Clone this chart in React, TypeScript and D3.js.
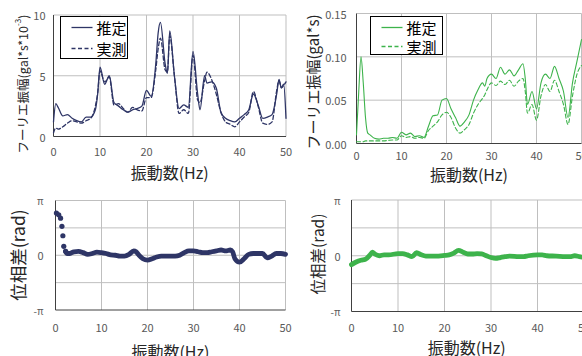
import React from "react";
import * as d3 from "d3";

// frequency (Hz) and values
const ampLeftHz = [0, 0.5, 1, 2, 3, 4, 5, 6, 7, 8, 9, 9.5, 10, 11, 12, 13, 14, 15, 16, 17, 18, 19, 20, 21, 22, 22.5, 23, 24, 24.5, 25, 26, 27, 28, 29, 30, 31, 31.5, 32.5, 33, 34, 35, 36, 37, 38, 39, 40, 41, 42, 43, 44, 45, 46, 47, 48, 48.5, 49, 49.5, 50];
const ampLeftEst = [1.2, 2.7, 2.4, 1.7, 1.8, 1.5, 1.3, 1.2, 1.6, 1.6, 2.2, 3.5, 5.7, 4.3, 5.0, 2.8, 2.5, 2.2, 2.0, 2.2, 2.3, 2.5, 3.8, 3.3, 6.0, 8.5, 9.4, 6.0, 5.2, 8.7, 5.0, 2.3, 2.6, 2.4, 7.0, 3.5, 2.2, 5.0, 4.4, 4.5, 4.0, 2.0, 1.5, 1.3, 1.2, 1.5, 1.8, 2.2, 3.5, 2.6, 1.5, 1.6, 1.8, 3.5, 4.7, 4.0, 4.3, 1.5];
const ampLeftObs = [0.3, 0.7, 0.6, 0.8, 1.1, 1.3, 1.2, 1.1, 1.3, 1.5, 2.5, 3.6, 5.4, 4.5, 4.9, 2.6, 2.7, 2.3, 2.0, 2.4, 2.2, 2.1, 3.2, 3.2, 5.5, 7.2, 8.1, 5.5, 5.3, 8.3, 5.0, 1.9, 2.2, 1.9, 6.7, 3.0, 2.8, 4.6, 5.3, 4.7, 3.5, 2.0, 1.2, 1.0, 0.8, 1.2, 1.6, 2.0, 3.7, 2.5, 1.1, 1.0, 1.2, 3.8, 4.6, 4.0, 4.2, 4.5];

const ampRightHz = [0, 0.5, 1, 1.5, 2, 2.5, 3, 4, 5, 6, 7, 8, 9, 10, 11, 12, 13, 14, 15, 16, 17, 18, 19, 20, 21, 22, 23, 24, 25, 26, 27, 28, 28.5, 29, 30, 31, 32, 33, 34, 35, 36, 37, 37.5, 38, 39, 40, 41, 42, 43, 44, 45, 46, 47, 48, 49, 50];
const ampRightEst = [0.01, 0.06, 0.1, 0.07, 0.03, 0.012, 0.01, 0.006, 0.005, 0.006, 0.006, 0.007, 0.006, 0.013, 0.01, 0.012, 0.008, 0.009, 0.007, 0.02, 0.032, 0.033, 0.05, 0.052, 0.04, 0.03, 0.02, 0.025, 0.033, 0.05, 0.062, 0.07, 0.066, 0.075, 0.08, 0.075, 0.088, 0.08, 0.085, 0.078, 0.085, 0.092, 0.075, 0.045, 0.06, 0.04, 0.07, 0.08, 0.075, 0.089, 0.075, 0.06, 0.03, 0.07, 0.095, 0.12];
const ampRightObs = [0.002, 0.002, 0.002, 0.002, 0.003, 0.003, 0.003, 0.003, 0.003, 0.003, 0.0035, 0.004, 0.004, 0.009, 0.007, 0.008, 0.006, 0.007, 0.006, 0.015, 0.02, 0.025, 0.033, 0.036, 0.03, 0.018, 0.012, 0.016, 0.022, 0.035, 0.045, 0.052, 0.056, 0.062, 0.07, 0.067, 0.072, 0.068, 0.073, 0.066, 0.072, 0.075, 0.06, 0.035, 0.045, 0.027, 0.055, 0.068, 0.06, 0.073, 0.06, 0.045, 0.022, 0.055, 0.08, 0.09];

const phaseLeftDotHz = [0.2, 0.7, 1.1, 1.4, 1.6, 1.8, 2.2];
const phaseLeftDot = [2.42, 2.32, 2.13, 1.66, 1.12, 0.51, 0.23];
const phaseLeftHz = [2.2, 2.5, 3, 4, 5, 6, 7, 8, 9, 10, 11, 12, 13, 14, 15, 16, 17, 17.5, 18, 19, 20, 21, 22, 23, 24, 25, 26, 27, 28, 29, 30, 31, 32, 33, 34, 35, 36, 37, 38, 38.5, 39, 40, 41, 42, 43, 44, 45, 46, 47, 48, 49, 50];
const phaseLeft = [0.23, 0.1, 0.1, 0.2, 0.22, 0.15, 0.05, 0.1, 0.18, 0.15, 0.1, 0.02, 0.0, -0.05, -0.05, 0.05, 0.25, 0.2, 0.05, -0.2, -0.28, -0.2, -0.1, -0.05, -0.05, -0.05, -0.05, 0.0, 0.15, 0.25, 0.25, 0.2, 0.15, 0.15, 0.2, 0.25, 0.3, 0.25, 0.3, 0.2, -0.2, -0.4, -0.2, 0.05, 0.1, 0.1, 0.1, -0.15, -0.05, 0.1, 0.1, 0.05];

const phaseRightHz = [0, 1, 2, 3, 4, 4.5, 5, 6, 7, 8, 10, 11, 12, 13, 14, 15, 16, 18, 20, 21, 22, 23, 24, 25, 26, 27, 28, 29, 30, 31, 32, 33, 34, 36, 37, 38, 40, 41, 42, 44, 46, 47, 48, 49, 50];
const phaseRight = [-0.5, -0.35, -0.25, -0.2, 0.05, 0.2, 0.1, 0.0, 0.05, 0.05, 0.12, 0.12, 0.05, -0.05, 0.17, 0.05, -0.02, -0.02, 0.02, 0.05, 0.15, 0.3, 0.2, 0.1, 0.1, 0.12, 0.1, 0.0, -0.1, -0.15, -0.1, -0.05, -0.02, -0.05, -0.05, 0.0, 0.05, 0.05, 0.0, -0.02, -0.05, -0.05, 0.0, -0.05, -0.1];

const xTicks = [0, 10, 20, 30, 40, 50];
const ampLeftTicks = [0, 5, 10];
const ampRightTicks = [0, 0.05, 0.1, 0.15];
const phaseTicks = [-Math.PI, -Math.PI / 2, 0, Math.PI / 2, Math.PI];
const phaseLabels = ["-π", "", "0", "", "π"];

const NAVY = "#2E3566";
const GREEN = "#3DB34B";
const GRID = "#BFBFBF";
const AXIS = "#404040";
const TICK = "#595959";
const FONT = "'Noto Sans CJK JP', 'Noto Sans', sans-serif";

type Series = { hz: number[]; vals: number[]; dash?: string; width: number };

function Panel(props: {
  left: number;
  right: number;
  top: number;
  bottom: number;
  domain: [number, number];
  yTicks: number[];
  yLabels: string[];
  series: Series[];
  color: string;
  dots?: { hz: number[]; vals: number[] };
  tickGap: number;
  xTitleY: number;
  tickY: number;
}) {
  const x = d3.scaleLinear().domain([0, 50]).range([props.left, props.right]);
  const y = d3.scaleLinear().domain(props.domain).range([props.bottom, props.top]);
  return (
    <g>
      {xTicks.slice(1).map((t) => (
        <line key={"vx" + t} x1={x(t)} x2={x(t)} y1={props.top} y2={props.bottom} stroke={GRID} strokeWidth={1} />
      ))}
      {props.yTicks.slice(1).map((t) => (
        <line key={"hy" + t} x1={props.left} x2={props.right} y1={y(t)} y2={y(t)} stroke={GRID} strokeWidth={1} />
      ))}
      <line x1={props.left} x2={props.left} y1={props.top} y2={props.bottom} stroke={AXIS} strokeWidth={1} />
      <line x1={props.left} x2={props.right} y1={props.bottom} y2={props.bottom} stroke={AXIS} strokeWidth={1} />
      {props.series.map((s, i) => {
        const line = d3
          .line<number>()
          .x((_, j) => x(s.hz[j]))
          .y((d) => y(d))
          .curve(d3.curveMonotoneX);
        return (
          <path
            key={i}
            d={line(s.vals) || ""}
            fill="none"
            stroke={props.color}
            strokeWidth={s.width}
            strokeDasharray={s.dash}
            strokeLinejoin="round"
            strokeLinecap="round"
          />
        );
      })}
      {props.dots &&
        props.dots.hz.map((h, i) => (
          <circle key={"d" + i} cx={x(h)} cy={y(props.dots!.vals[i])} r={2.6} fill={props.color} />
        ))}
      {xTicks.map((t) => (
        <text key={"xt" + t} x={x(t)} y={props.tickY} textAnchor="middle" dominantBaseline="central" fontSize={11} fill={TICK} fontFamily={FONT}>
          {t}
        </text>
      ))}
      {props.yTicks.map((t, i) =>
        props.yLabels[i] ? (
          <text key={"yt" + i} x={props.left - props.tickGap} y={y(t)} textAnchor="end" dominantBaseline="central" fontSize={props.yLabels[i].includes("π") ? 10 : 11} fill={TICK} fontFamily={FONT}>
            {props.yLabels[i]}
          </text>
        ) : null
      )}
      <text x={(props.left + Math.min(props.right, 582)) / 2} y={props.xTitleY} textAnchor="middle" dominantBaseline="central" fontSize={16} fill="#262626" fontFamily={FONT}>
        振動数(Hz)
      </text>
    </g>
  );
}

function Legend(props: { x: number; y: number; w: number; h: number; color: string; dy: number }) {
  const { x, y, w, h, color, dy } = props;
  return (
    <g>
      <rect x={x} y={y} width={w} height={h} fill="#fff" stroke="#000" strokeWidth={1} />
      <line x1={x + 11} x2={x + 32} y1={y + 11} y2={y + 11} stroke={color} strokeWidth={1.3} />
      <line x1={x + 11} x2={x + 32} y1={y + 11 + dy} y2={y + 11 + dy} stroke={color} strokeWidth={1.3} strokeDasharray="4,2.5" />
      <text x={x + 36} y={y + 11} dominantBaseline="central" fontSize={15} fill="#000" fontFamily={FONT}>
        推定
      </text>
      <text x={x + 36} y={y + 11 + dy} dominantBaseline="central" fontSize={15} fill="#000" fontFamily={FONT}>
        実測
      </text>
    </g>
  );
}

export default function App() {
  return (
    <svg width={582} height={356} style={{ position: "absolute", left: 0, top: 0, background: "#fff" }}>
      <Panel
        left={53.5}
        right={286}
        top={15}
        bottom={136.5}
        domain={[0, 10]}
        yTicks={ampLeftTicks}
        yLabels={["0", "5", "10"]}
        series={[
          { hz: ampLeftHz, vals: ampLeftObs, dash: "4,2.5", width: 1.3 },
          { hz: ampLeftHz, vals: ampLeftEst, width: 1.3 },
        ]}
        color={NAVY}
        tickGap={8}
        tickY={151}
        xTitleY={172}
      />
      <Panel
        left={356.5}
        right={581.5}
        top={13.5}
        bottom={143.5}
        domain={[0, 0.15]}
        yTicks={ampRightTicks}
        yLabels={["0.00", "0.05", "0.10", "0.15"]}
        series={[
          { hz: ampRightHz, vals: ampRightObs, dash: "4,2.5", width: 1.1 },
          { hz: ampRightHz, vals: ampRightEst, width: 1.1 },
        ]}
        color={GREEN}
        tickGap={10}
        tickY={154.5}
        xTitleY={174}
      />
      <Panel
        left={55.5}
        right={285.5}
        top={200.5}
        bottom={310}
        domain={[-Math.PI, Math.PI]}
        yTicks={phaseTicks}
        yLabels={phaseLabels}
        series={[{ hz: phaseLeftHz, vals: phaseLeft, width: 4.8 }]}
        dots={{ hz: phaseLeftDotHz, vals: phaseLeftDot }}
        color={NAVY}
        tickGap={12}
        tickY={326.5}
        xTitleY={351}
      />
      <Panel
        left={351.5}
        right={584}
        top={200}
        bottom={311.5}
        domain={[-Math.PI, Math.PI]}
        yTicks={phaseTicks}
        yLabels={phaseLabels}
        series={[{ hz: phaseRightHz, vals: phaseRight, width: 4.8 }]}
        color={GREEN}
        tickGap={11}
        tickY={327}
        xTitleY={347}
      />
      <Legend x={60.5} y={16.5} w={67} h={42} color={NAVY} dy={21} />
      <Legend x={370.5} y={16.5} w={72} h={38} color={GREEN} dy={19} />

      <text transform="translate(22,84) rotate(-90)" textAnchor="middle" dominantBaseline="central" fontSize={12.5} fill="#262626" fontFamily={FONT}>
        フーリエ振幅(gal*s*10
        <tspan fontSize={8} dy={-5}>-3</tspan>
        <tspan dy={5}>)</tspan>
      </text>
      <text transform="translate(312,82) rotate(-90)" textAnchor="middle" dominantBaseline="central" fontSize={15} fill="#262626" fontFamily={FONT}>
        フーリエ振幅(gal*s)
      </text>
      <text transform="translate(17,255) rotate(-90)" textAnchor="middle" dominantBaseline="central" fontSize={17.5} fill="#262626" fontFamily={FONT}>
        位相差(rad)
      </text>
      <text transform="translate(317,254) rotate(-90)" textAnchor="middle" dominantBaseline="central" fontSize={15.5} fill="#262626" fontFamily={FONT}>
        位相差(rad)
      </text>
    </svg>
  );
}
